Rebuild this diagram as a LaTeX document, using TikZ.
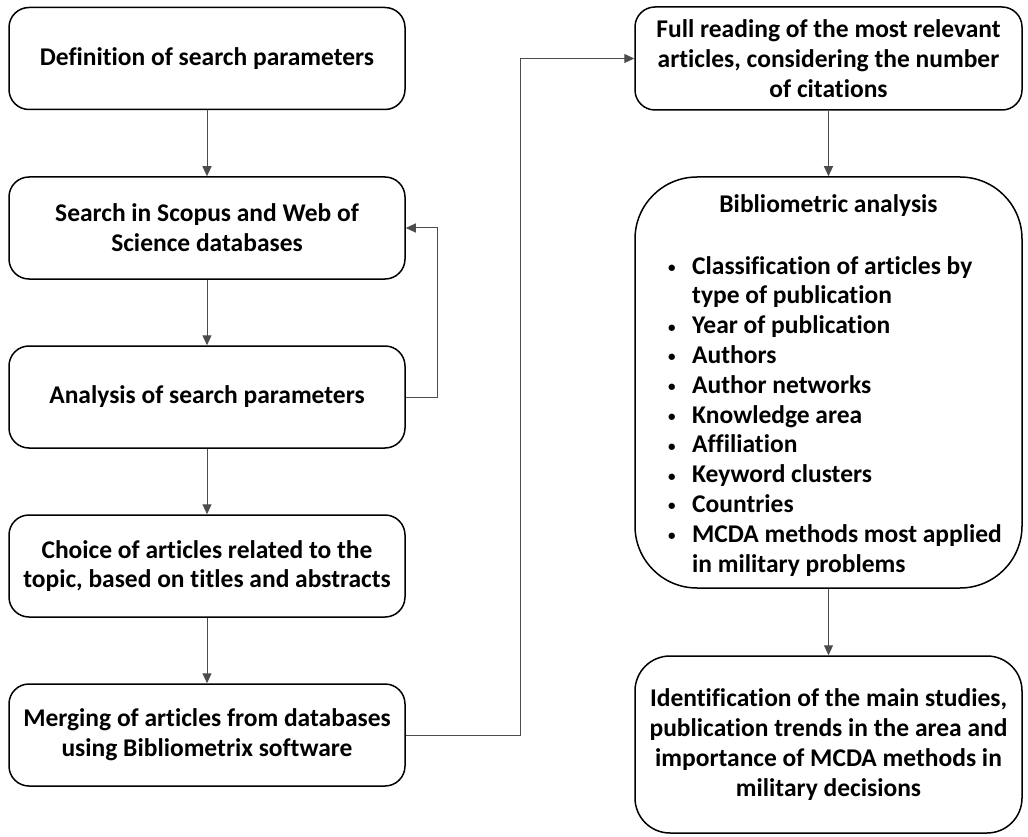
\documentclass[tikz,border=0pt]{standalone}
\usepackage{fontspec}
\setmainfont{Carlito}[Ligatures=NoCommon]
\usetikzlibrary{arrows.meta}
\newcommand{\smallbul}{\makebox[24pt][l]{\raisebox{1.5pt}{\fontsize{15}{15}\selectfont\textbullet}}}
\newcommand{\nfi}{f\kern0pt i}
\begin{document}
\begin{tikzpicture}[x=1pt,y=-1pt,
  box/.style={draw=black, line width=1.5pt, rounded corners=20pt, align=center,
    font=\fontsize{25.5}{29.8}\selectfont\bfseries, inner sep=0pt},
  lbox/.style={box, minimum width=396pt, minimum height=102pt},
  rbox/.style={box, minimum width=387pt},
  conn/.style={draw=black!70, line width=1pt, -{Triangle[length=10pt,width=9pt]}},
  txt/.style={font=\fontsize{25.5}{29.8}\selectfont\bfseries, inner sep=0pt}]
\useasboundingbox (0,0) rectangle (1028,837);
% left column
\node[lbox] (b1) at (207,58.5) {De\nfi nition of search parameters};
\node[lbox] (b2) at (207,228) {Search in Scopus and Web of\\Science databases};
\node[lbox] (b3) at (207,397) {Analysis of search parameters};
\node[lbox] (b4) at (207,566) {Choice of articles related to the\\topic, based on titles and abstracts};
\node[lbox] (b5) at (207,735) {Merging of articles from databases\\using Bibliometrix software};
% right column
\node[rbox, minimum height=103pt] (r1) at (828.5,58.5) {Full reading of the most relevant\\articles, considering the number\\of citations};
\node[rbox, minimum height=411pt, rounded corners=62pt] (r2) at (828.5,382.5) {};
\node[rbox, minimum height=177pt, rounded corners=35pt] (r3) at (828.5,744.5) {Identi\nfi cation of the main studies,\\publication trends in the area and\\importance of MCDA methods in\\military decisions};
\node[txt] (r2title) at (828.5,206) {Bibliometric analysis};
\node[txt, anchor=north west] (r2list) at (668,253) {%
\begin{tabular}{@{}l@{}l@{}}
\smallbul & Classi\nfi cation of articles by\\
 & type of publication\\
\smallbul & Year of publication\\
\smallbul & Authors\\
\smallbul & Author networks\\
\smallbul & Knowledge area\\
\smallbul & Af\kern0pt f\kern0pt iliation\\
\smallbul & Keyword clusters\\
\smallbul & Countries\\
\smallbul & MCDA methods most applied\\
 & in military problems
\end{tabular}};
% connectors
\coordinate (fb1) at (437,397);
\coordinate (fb2) at (437,228);
\coordinate (m1) at (520,735);
\coordinate (m2) at (520,58.5);
\draw[conn] (b1) -- (b2);
\draw[conn] (b2) -- (b3);
\draw[conn] (b3) -- (b4);
\draw[conn] (b4) -- (b5);
\draw[conn] (b3.east) -- (fb1) -- (fb2) -- (b2.east);
\draw[conn] (b5.east) -- (m1) -- (m2) -- (r1.west);
\draw[conn] (r1) -- (r2);
\draw[conn] (r2) -- (r3);
\end{tikzpicture}
\end{document}
